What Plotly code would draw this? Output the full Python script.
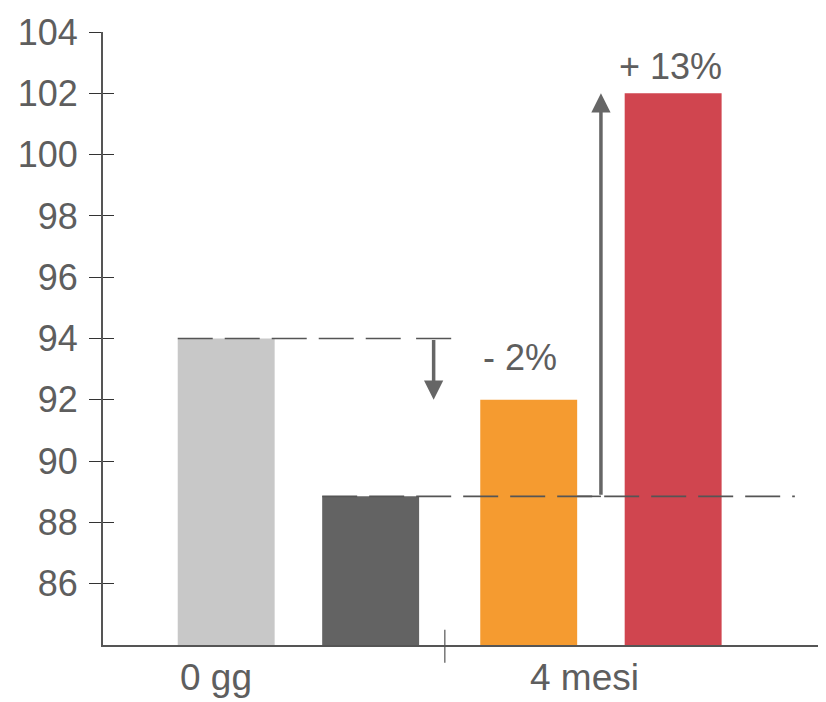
import plotly.graph_objects as go

# ---- data ----
groups = ["0 gg", "4 mesi"]
first_bar_values = [94, 92]        # light grey (0 gg), orange (4 mesi)
second_bar_values = [88.85, 102]   # dark grey (0 gg), red (4 mesi)
first_bar_colors = ["#c8c8c8", "#f59b30"]
second_bar_colors = ["#636363", "#d0454f"]
change_labels = ["- 2%", "+ 13%"]
y_tick_values = [86, 88, 90, 92, 94, 96, 98, 100, 102, 104]

# ---- styling / geometry ----
FONT = "Liberation Sans, Arial, sans-serif"
TXT = "#5e5e5e"
AX = "#555555"
BARGAP = 0.045
GROUPGAP = 0.329
slot = (1 - BARGAP) / 2
off = slot / 2                       # offset of bar centers from category center
half_w = slot * (1 - GROUPGAP) / 2   # half bar width

fig = go.Figure()
fig.add_trace(go.Bar(x=groups, y=first_bar_values, marker=dict(color=first_bar_colors, line_width=0),
                     showlegend=False, hoverinfo="skip"))
fig.add_trace(go.Bar(x=groups, y=second_bar_values, marker=dict(color=second_bar_colors, line_width=0),
                     showlegend=False, hoverinfo="skip"))
# invisible trace for inside-tick overlay axis
fig.add_trace(go.Scatter(x=groups, y=[None, None], yaxis="y2", showlegend=False, hoverinfo="skip"))

base0 = first_bar_values[0]      # 94
base1 = second_bar_values[0]     # 88.85
left0 = 0 - off - half_w
left_dark = 0 + off - half_w
orange_right = 1 - off + half_w
down_x = 0.447
up_x = 1.0

shapes = []
dash = "35px,12px"
# dashed reference line at light-grey level
shapes.append(dict(type="line", xref="x", yref="y", x0=left0, x1=0.375, y0=base0, y1=base0,
                   line=dict(color=AX, width=1.6, dash=dash)))
# T bar at top of down arrow
shapes.append(dict(type="line", xref="x", yref="y", x0=down_x - 0.058, x1=down_x + 0.058, y0=base0, y1=base0,
                   line=dict(color=AX, width=1.6)))
# dashed reference line at dark-grey level (over bars)
shapes.append(dict(type="line", xref="x", yref="y", x0=left_dark, x1=1.641, y0=base1, y1=base1,
                   line=dict(color=AX, width=1.6, dash=dash), layer="above"))
# horizontal foot of up arrow
shapes.append(dict(type="line", xref="x", yref="y", x0=orange_right, x1=up_x, y0=base1, y1=base1,
                   line=dict(color=AX, width=1.6)))
# category separator tick
shapes.append(dict(type="line", xref="x", yref="y domain", x0=0.484, x1=0.484, y0=-0.029, y1=0.025,
                   line=dict(color=AX, width=1.2)))

annotations = []
# down arrow 94 -> 92
annotations.append(dict(x=down_x, y=first_bar_values[1], ax=down_x, ay=base0, xref="x", yref="y",
                        axref="x", ayref="y", showarrow=True, arrowhead=2, arrowsize=1.1,
                        arrowwidth=3.5, arrowcolor="#666666", text=""))
# up arrow 88.85 -> 102
annotations.append(dict(x=up_x, y=second_bar_values[1], ax=up_x, ay=base1, xref="x", yref="y",
                        axref="x", ayref="y", showarrow=True, arrowhead=2, arrowsize=1.1,
                        arrowwidth=3.5, arrowcolor="#666666", text=""))
# change labels
annotations.append(dict(x=1 - off, y=first_bar_values[1], xref="x", yref="y", text=change_labels[0],
                        showarrow=False, yanchor="bottom", xanchor="center", xshift=-9, yshift=20,
                        font=dict(family=FONT, size=36, color=TXT)))
annotations.append(dict(x=1 + off, y=second_bar_values[1], xref="x", yref="y", text=change_labels[1],
                        showarrow=False, yanchor="bottom", xanchor="center", xshift=-3, yshift=4,
                        font=dict(family=FONT, size=36, color=TXT)))
# category labels
for gx, label, shift in zip([0, 1], groups, [-82, -16]):
    annotations.append(dict(x=gx, y=0, xref="x", yref="y domain", text=label, showarrow=False,
                            yanchor="top", xanchor="center", xshift=shift, yshift=-10,
                            font=dict(family=FONT, size=37, color=TXT)))

# page body has an 8px default margin; figure is sized/offset to compensate
fig.update_layout(
    width=818, height=694,
    margin=dict(l=95, r=0, t=24, b=57, pad=0, autoexpand=False),
    paper_bgcolor="white", plot_bgcolor="white",
    barmode="group", bargap=BARGAP, bargroupgap=GROUPGAP,
    font=dict(family=FONT, color=TXT),
    xaxis=dict(type="category", range=[-0.646, 1.744], showticklabels=False, ticks="",
               showline=True, linecolor=AX, linewidth=1.5, showgrid=False, zeroline=False,
               fixedrange=True, automargin=False),
    yaxis=dict(range=[84, 104], tickvals=y_tick_values, ticks="outside", ticklen=12,
               tickcolor="#333333", tickwidth=1.3, showline=True, linecolor=AX, linewidth=2,
               showgrid=False, zeroline=False, tickfont=dict(family=FONT, size=36, color=TXT),
               ticklabelstandoff=4, automargin=False),
    yaxis2=dict(range=[84, 104], overlaying="y", side="left", tickvals=y_tick_values, ticks="inside",
                ticklen=11, tickcolor="#333333", tickwidth=1.3, showticklabels=False, showline=False,
                showgrid=False, zeroline=False, automargin=False),
    shapes=shapes,
    annotations=annotations,
)

fig.write_html("out.html")
